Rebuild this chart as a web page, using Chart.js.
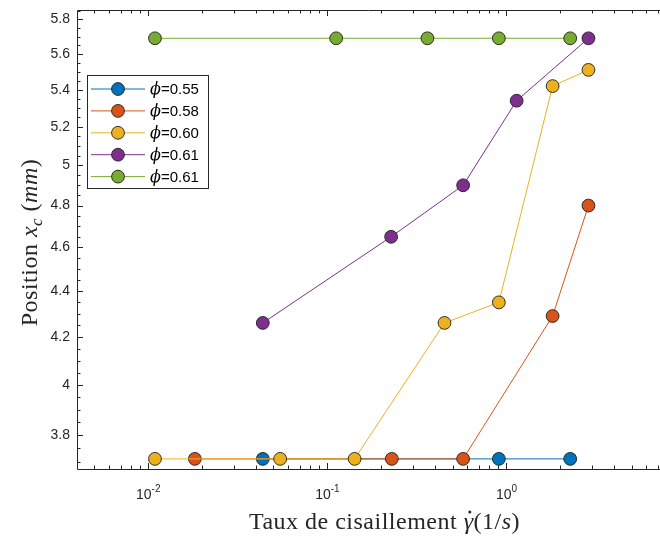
<!DOCTYPE html>
<html>
<head>
<meta charset="utf-8">
<script src="https://cdn.jsdelivr.net/npm/chart.js@4"></script>
<style>
  html, body { margin: 0; padding: 0; background: #fff; }
  #wrap { width: 660px; height: 536px; position: relative; }
</style>
</head>
<body>
<div id="wrap"><canvas id="graphe"></canvas></div>
<script>
// taux de cisaillement (1/s) et position x_c (mm)
const taux055 = [0.0436, 0.907, 2.27];
const pos055  = [3.71, 3.71, 3.71];
const taux058 = [0.0182, 0.229, 0.573, 1.81, 2.87];
const pos058  = [3.71, 3.71, 3.71, 4.29, 4.80];
const taux060 = [0.0109, 0.0545, 0.142, 0.451, 0.907, 1.81, 2.87];
const pos060  = [3.71, 3.71, 3.71, 4.26, 4.35, 5.42, 5.51];
const taux061a = [0.0436, 0.227, 0.573, 1.14, 2.87];
const pos061a  = [4.26, 4.65, 4.90, 5.34, 5.69];
const taux061b = [0.0109, 0.112, 0.362, 0.907, 2.27];
const pos061b  = [5.69, 5.69, 5.69, 5.69, 5.69];

const legendes = ['0.55', '0.58', '0.60', '0.61', '0.61'];
const couleurs = ['#0072BD', '#D95319', '#EDB120', '#7E2F8E', '#77AC30'];

const ticksY = [3.8, 4, 4.2, 4.4, 4.6, 4.8, 5, 5.2, 5.4, 5.6, 5.8];
const labelsY = ['3.8', '4', '4.2', '4.4', '4.6', '4.8', '5', '5.2', '5.4', '5.6', '5.8'];
const ticksX = [0.01, 0.1, 1];
const exposantsX = ['-2', '-1', '0'];

const AXE = '#262626';

function pts(xs, ys) {
    return xs.map((x, i) => ({ x: x, y: ys[i] }));
}

const series = [
    pts(taux055, pos055),
    pts(taux058, pos058),
    pts(taux060, pos060),
    pts(taux061a, pos061a),
    pts(taux061b, pos061b)
];

const datasets = series.map((d, i) => ({
    label: legendes[i],
    data: d,
    borderColor: couleurs[i],
    backgroundColor: couleurs[i],
    borderWidth: 1,
    pointRadius: 6.4,
    pointHoverRadius: 6.4,
    pointBorderColor: '#1e1e1e',
    pointBorderWidth: 0.9,
    tension: 0,
    order: 5 - i,   // les dernières séries passent au-dessus
    clip: false
}));

// texte avec morceaux droits / italiques / indices
function texteRiche(ctx, morceaux, x, y, align) {
    let total = 0;
    morceaux.forEach(m => { ctx.font = m.font; total += ctx.measureText(m.t).width; });
    let cx = align === 'center' ? x - total / 2 : x;
    morceaux.forEach(m => {
        ctx.font = m.font;
        ctx.fillText(m.t, cx, y + (m.dy || 0));
        if (m.point) {
            // point au-dessus du gamma
            const w = ctx.measureText(m.t).width;
            ctx.beginPath();
            ctx.arc(cx + w * 0.62, y - 17, 1.5, 0, Math.PI * 2);
            ctx.fill();
        }
        cx += ctx.measureText(m.t).width;
    });
}

const cadre = {
    id: 'cadre',
    afterDraw(chart) {
        const ctx = chart.ctx;
        const a = chart.chartArea;
        const sx = chart.scales.x, sy = chart.scales.y;
        ctx.save();
        ctx.strokeStyle = AXE;
        ctx.fillStyle = AXE;
        ctx.lineWidth = 1;

        // boîte (le bord droit sort de l'image)
        ctx.beginPath();
        ctx.moveTo(a.right, a.top + 0.5);
        ctx.lineTo(a.left + 0.5, a.top + 0.5);
        ctx.lineTo(a.left + 0.5, a.bottom + 0.5);
        ctx.lineTo(a.right, a.bottom + 0.5);
        ctx.stroke();

        // graduations x (log)
        ctx.beginPath();
        for (let e = -3; e <= 1; e++) {
            for (let k = 1; k <= 9; k++) {
                const v = k * Math.pow(10, e);
                const px = sx.getPixelForValue(v);
                if (px < a.left + 1 || px > a.right - 1) continue;
                const L = k === 1 ? 6 : 3.5;
                const xx = Math.round(px) + 0.5;
                ctx.moveTo(xx, a.bottom); ctx.lineTo(xx, a.bottom - L);
                ctx.moveTo(xx, a.top); ctx.lineTo(xx, a.top + L);
            }
        }
        // graduations y
        for (let n = 0; n <= 45; n++) {
            const v = 3.65 + n * 0.05;
            const py = sy.getPixelForValue(v);
            if (py < a.top + 1 || py > a.bottom - 1) continue;
            const majeur = Math.abs(Math.round(v * 5) - v * 5) < 1e-6;
            const L = majeur ? 6 : 3.5;
            const yy = Math.round(py) + 0.5;
            ctx.moveTo(a.left, yy); ctx.lineTo(a.left + L, yy);
        }
        ctx.stroke();

        // étiquettes y
        ctx.font = '14px "Liberation Sans", Arial, sans-serif';
        ctx.textAlign = 'right';
        ctx.textBaseline = 'middle';
        ticksY.forEach((v, i) => {
            ctx.fillText(labelsY[i], a.left - 7, sy.getPixelForValue(v));
        });

        // étiquettes x : 10^n
        ctx.textBaseline = 'alphabetic';
        ctx.textAlign = 'left';
        ticksX.forEach((v, i) => {
            const px = sx.getPixelForValue(v);
            ctx.font = '14px "Liberation Sans", Arial, sans-serif';
            const wb = ctx.measureText('10').width;
            ctx.font = '10px "Liberation Sans", Arial, sans-serif';
            const we = ctx.measureText(exposantsX[i]).width;
            const x0 = px - (wb + we) / 2;
            ctx.font = '14px "Liberation Sans", Arial, sans-serif';
            ctx.fillText('10', x0, a.bottom + 30);
            ctx.font = '10px "Liberation Sans", Arial, sans-serif';
            ctx.fillText(exposantsX[i], x0 + wb, a.bottom + 23);
        });

        // titres des axes
        const droit = '24px "Liberation Serif", "DejaVu Serif", serif';
        const ital = 'italic 24px "Liberation Serif", "DejaVu Serif", serif';
        const petit = 'italic 17px "Liberation Serif", "DejaVu Serif", serif';
        ctx.fillStyle = AXE;
        ctx.letterSpacing = '0.5px';
        texteRiche(ctx, [
            { t: 'Taux de cisaillement ', font: droit },
            { t: 'γ', font: ital, point: true },
            { t: '(1/', font: droit },
            { t: 's', font: ital },
            { t: ')', font: droit }
        ], (a.left + a.right) / 2 + 16, 529, 'center');

        ctx.save();
        ctx.translate(29, (a.top + a.bottom) / 2 + 3);
        ctx.rotate(-Math.PI / 2);
        texteRiche(ctx, [
            { t: 'Position ', font: droit },
            { t: 'x', font: ital },
            { t: 'c', font: petit, dy: 5 },
            { t: ' (', font: droit },
            { t: 'mm', font: ital },
            { t: ')', font: droit }
        ], 0, 8, 'center');
        ctx.restore();
        ctx.letterSpacing = '0px';

        // légende
        const lx = a.left + 10, ly = a.top + 65, lw = 121, lh = 113;
        ctx.fillStyle = '#fff';
        ctx.fillRect(lx, ly, lw, lh);
        ctx.strokeStyle = AXE;
        ctx.strokeRect(lx + 0.5, ly + 0.5, lw, lh);
        legendes.forEach((txt, i) => {
            const cy = ly + 14 + i * 21.9;
            ctx.strokeStyle = couleurs[i];
            ctx.lineWidth = 1;
            ctx.beginPath();
            ctx.moveTo(lx + 4, cy); ctx.lineTo(lx + 58, cy);
            ctx.stroke();
            ctx.beginPath();
            ctx.arc(lx + 31, cy, 6.4, 0, Math.PI * 2);
            ctx.fillStyle = couleurs[i];
            ctx.fill();
            ctx.strokeStyle = '#1e1e1e';
            ctx.lineWidth = 0.9;
            ctx.stroke();
            ctx.fillStyle = '#000';
            ctx.textBaseline = 'middle';
            texteRiche(ctx, [
                { t: 'ϕ', font: 'italic 16px "DejaVu Serif", serif' },
                { t: '=' + txt, font: '15px "Liberation Sans", Arial, sans-serif' }
            ], lx + 63, cy + 1, 'left');
        });
        ctx.restore();
    }
};

new Chart(document.getElementById('graphe'), {
    type: 'line',
    data: { datasets: datasets },
    options: {
        responsive: true,
        maintainAspectRatio: false,
        animation: false,
        events: [],
        layout: { autoPadding: false, padding: { left: 77, top: 10, right: 0, bottom: 67 } },
        plugins: { legend: { display: false }, tooltip: { enabled: false } },
        scales: {
            x: { type: 'logarithmic', min: 0.004, max: 7.2, display: false },
            y: { type: 'logarithmic', min: 3.672, max: 5.856, display: false }
        }
    },
    plugins: [cadre]
});
</script>
</body>
</html>
